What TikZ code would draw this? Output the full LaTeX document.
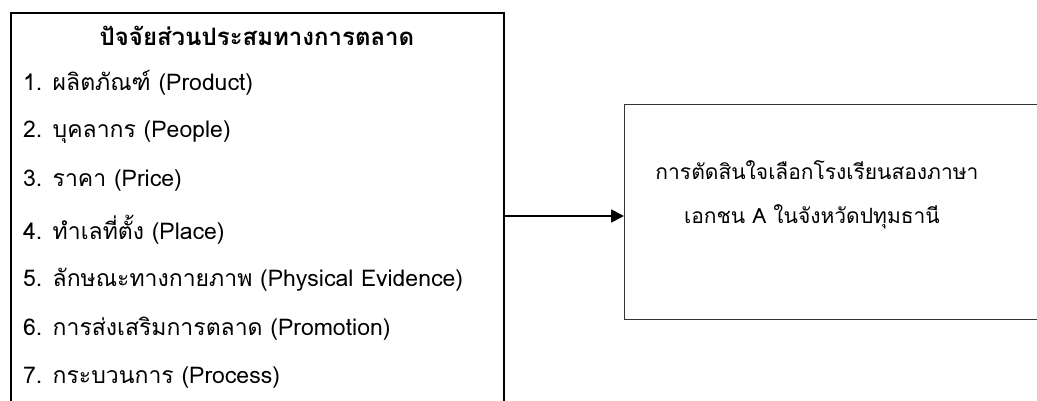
\documentclass[tikz,border=0pt]{standalone}
\usepackage{fontspec}
\setmainfont[Script=Thai]{Loma}
\newfontfamily\thaifont[Script=Thai]{Loma}
\usetikzlibrary{arrows.meta,calc}
\tikzset{
  item/.style={anchor=west, inner sep=0pt, font=\thaifont\fontsize{23}{25}\selectfont},
  outtext/.style={anchor=center, inner sep=0pt, font=\thaifont\fontsize{21}{23}\selectfont},
  heading/.style={anchor=center, inner sep=0pt, font=\thaifont\bfseries\fontsize{24}{26}\selectfont},
  bigbox/.style={draw, line width=2.4pt, minimum width=493pt, minimum height=420pt, anchor=north west},
  outbox/.style={draw=black!80, line width=0.9pt, minimum width=430pt, minimum height=215pt, anchor=north west},
  conn/.style={line width=1.6pt, -{Triangle[length=13pt,width=13pt]}}
}
\begin{document}
\begin{tikzpicture}[x=1pt,y=-1pt]
\useasboundingbox[fill=white] (0,0) rectangle (1037,401);
\node[bigbox] (left) at (10,12) {};
\node[outbox] (right) at (624,104) {};
\node[heading] (h) at (257,36) {ปัจจัยส่วนประสมทางการตลาด};
\node[item] (i1) at (23,83) {1. ผลิตภัณฑ์ (Product)};
\node[item] (i2) at (23,132) {2. บุคลากร (People)};
\node[item] (i3) at (23,181) {3. ราคา (Price)};
\node[item] (i4) at (23,230) {4. ทำเลที่ตั้ง (Place)};
\node[item] (i5) at (23,280) {5. ลักษณะทางกายภาพ (Physical Evidence)};
\node[item] (i6) at (23,329) {6. การส่งเสริมการตลาด (Promotion)};
\node[item] (i7) at (23,378) {7. กระบวนการ (Process)};
\node[outtext] (o1) at (817,170) {การตัดสินใจเลือกโรงเรียนสองภาษา};
\node[outtext] (o2) at (812,217) {เอกชน A ในจังหวัดปทุมธานี};
\coordinate (arr) at (0,216);
\draw[conn] (left.east |- arr) -- (right.west |- arr);
\end{tikzpicture}
\end{document}
